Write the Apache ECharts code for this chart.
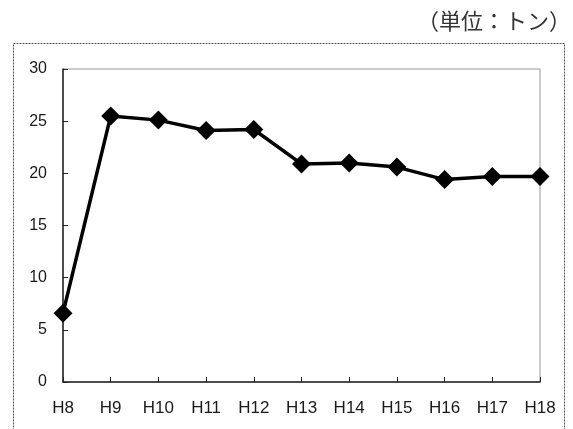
<!DOCTYPE html>
<html>
<head>
<meta charset="utf-8">
<script src="https://cdn.jsdelivr.net/npm/echarts@6/dist/echarts.min.js"></script>
<style>
  html, body { margin: 0; padding: 0; background: #fff; }
  #chart { width: 573px; height: 429px; }
</style>
</head>
<body>
<div id="chart"></div>
<script>
// Fiscal years (Heisei) and yearly amounts in tonnes
const years = ['H8', 'H9', 'H10', 'H11', 'H12', 'H13', 'H14', 'H15', 'H16', 'H17', 'H18'];
const amounts = [6.6, 25.5, 25.1, 24.1, 24.2, 20.9, 21.0, 20.6, 19.4, 19.7, 19.7];
const unitLabel = '（単位：トン）';

const chart = echarts.init(document.getElementById('chart'), null, { renderer: 'canvas' });

chart.setOption({
  animation: false,
  backgroundColor: '#ffffff',
  graphic: [
    {
      type: 'rect',
      shape: { x: 13.5, y: 43.5, width: 551, height: 400 },
      style: { fill: 'none', stroke: '#555', lineWidth: 1, lineDash: [2, 1] },
      z: 0
    },
    {
      type: 'text',
      right: 2,
      top: 10,
      style: {
        text: unitLabel,
        font: '22px "Noto Sans CJK JP"',
        fill: '#333'
      }
    }
  ],
  grid: {
    left: 63,
    right: 33,
    top: 69,
    bottom: 47,
    show: true,
    borderColor: '#999',
    borderWidth: 1
  },
  xAxis: {
    type: 'category',
    data: years,
    boundaryGap: false,
    axisLine: { lineStyle: { color: '#222', width: 1.5 } },
    axisTick: { inside: true, length: 5, lineStyle: { color: '#222' } },
    axisLabel: {
      color: '#1a1a1a',
      fontFamily: 'Liberation Sans',
      fontSize: 17,
      margin: 18
    },
    splitLine: { show: false }
  },
  yAxis: {
    type: 'value',
    min: 0,
    max: 30,
    interval: 5,
    axisLine: { show: true, lineStyle: { color: '#222', width: 1.5 } },
    axisTick: { show: true, inside: true, length: 5, lineStyle: { color: '#222' } },
    axisLabel: {
      color: '#1a1a1a',
      fontFamily: 'Liberation Sans',
      fontSize: 16,
      margin: 16
    },
    splitLine: { show: false }
  },
  series: [
    {
      type: 'line',
      data: amounts,
      symbol: 'diamond',
      symbolSize: [19, 19],
      lineStyle: { color: '#000', width: 3.5 },
      itemStyle: { color: '#000' },
      z: 5
    }
  ]
});
</script>
</body>
</html>
